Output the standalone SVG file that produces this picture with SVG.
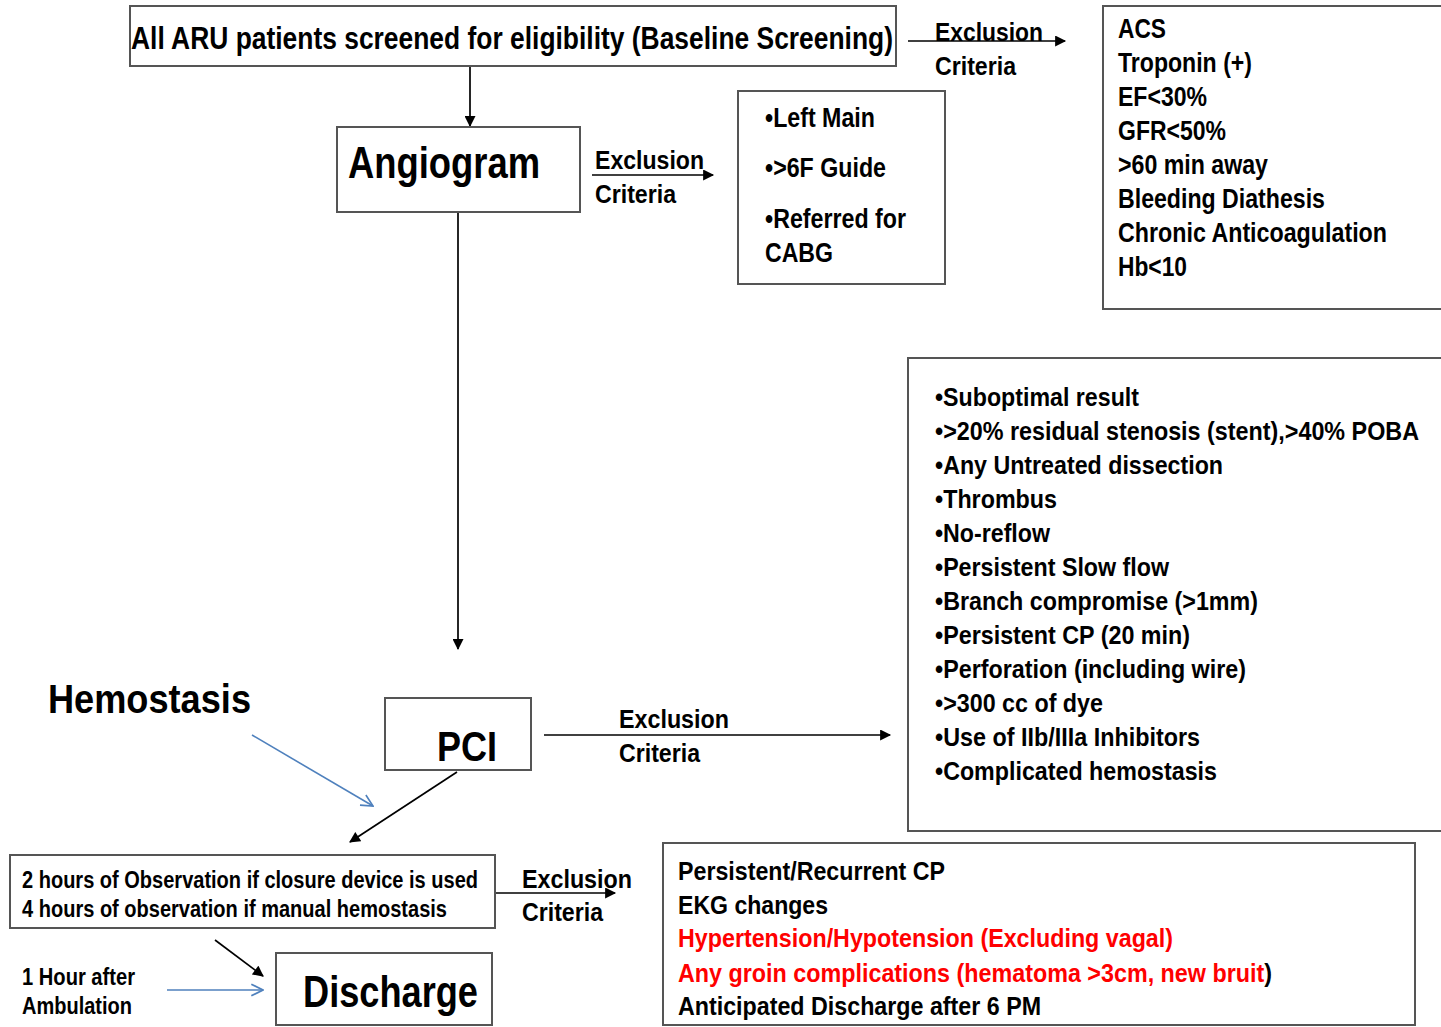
<svg xmlns="http://www.w3.org/2000/svg" width="1441" height="1027" viewBox="0 0 1441 1027">
  <style>
    text { font-family: "Liberation Sans Narrow", "Liberation Sans", Arial, sans-serif; font-weight: bold; fill: #000; }
    .box { fill: #fff; stroke: #555; stroke-width: 2; }
    .wire { stroke: #000; stroke-width: 1.7; fill: none; }
    .blue { stroke: #4f81bd; stroke-width: 1.6; fill: none; }
    .red { fill: #ff0000; }
  </style>
  <defs>
    <marker id="arrow" viewBox="0 0 10 10" refX="9" refY="5" markerWidth="12" markerHeight="11" markerUnits="userSpaceOnUse" orient="auto">
      <path d="M0,0 L10,5 L0,10 z" fill="#000"/>
    </marker>
    <marker id="arrowOpen" viewBox="0 0 12 12" refX="11" refY="6" markerWidth="14" markerHeight="14" markerUnits="userSpaceOnUse" orient="auto">
      <path d="M1,1 L11,6 L1,11" fill="none" stroke="#4f81bd" stroke-width="1.4"/>
    </marker>
  </defs>

  <rect width="1441" height="1027" fill="#fff"/>

  <!-- connectors -->
  <g id="connectors">
    <line class="wire" x1="470" y1="66" x2="470" y2="126" marker-end="url(#arrow)"/>
    <line class="wire" x1="908" y1="41" x2="1065" y2="41" marker-end="url(#arrow)"/>
    <line class="wire" x1="592" y1="175" x2="713" y2="175" marker-end="url(#arrow)"/>
    <line class="wire" x1="458" y1="212" x2="458" y2="649" marker-end="url(#arrow)"/>
    <line class="wire" x1="544" y1="735" x2="890" y2="735" marker-end="url(#arrow)"/>
    <line class="wire" x1="457" y1="772" x2="350" y2="842" marker-end="url(#arrow)"/>
    <line class="wire" x1="495" y1="893" x2="615" y2="893" marker-end="url(#arrow)"/>
    <line class="wire" x1="215" y1="940" x2="263" y2="976" marker-end="url(#arrow)"/>
    <line class="blue" x1="252" y1="735" x2="373" y2="806" marker-end="url(#arrowOpen)"/>
    <line class="blue" x1="167" y1="990" x2="263" y2="990" marker-end="url(#arrowOpen)"/>
  </g>

  <!-- edge labels -->
  <g id="labels" font-size="26">
    <text x="935" y="41" textLength="108" lengthAdjust="spacingAndGlyphs">Exclusion</text>
    <text x="935" y="75" textLength="81" lengthAdjust="spacingAndGlyphs">Criteria</text>
    <text x="595" y="169" textLength="109" lengthAdjust="spacingAndGlyphs">Exclusion</text>
    <text x="595" y="203" textLength="81" lengthAdjust="spacingAndGlyphs">Criteria</text>
    <text x="619" y="728" textLength="110" lengthAdjust="spacingAndGlyphs">Exclusion</text>
    <text x="619" y="762" textLength="81" lengthAdjust="spacingAndGlyphs">Criteria</text>
    <text x="522" y="888" textLength="110" lengthAdjust="spacingAndGlyphs">Exclusion</text>
    <text x="522" y="921" textLength="81" lengthAdjust="spacingAndGlyphs">Criteria</text>
  </g>

  <!-- screening -->
  <g id="screening">
    <rect class="box" x="130" y="6" width="766" height="60"/>
    <text x="131" y="49" font-size="31" textLength="762" lengthAdjust="spacingAndGlyphs">All ARU patients screened for eligibility (Baseline Screening)</text>
  </g>

  <!-- baseline exclusion list -->
  <g id="baseline-exclusions" font-size="27">
    <rect class="box" x="1103" y="6" width="345" height="303"/>
    <text x="1118" y="38" textLength="48" lengthAdjust="spacingAndGlyphs">ACS</text>
    <text x="1118" y="72" textLength="134" lengthAdjust="spacingAndGlyphs">Troponin (+)</text>
    <text x="1118" y="106" textLength="89" lengthAdjust="spacingAndGlyphs">EF&lt;30%</text>
    <text x="1118" y="140" textLength="108" lengthAdjust="spacingAndGlyphs">GFR&lt;50%</text>
    <text x="1118" y="174" textLength="150" lengthAdjust="spacingAndGlyphs">&gt;60 min away</text>
    <text x="1118" y="208" textLength="207" lengthAdjust="spacingAndGlyphs">Bleeding Diathesis</text>
    <text x="1118" y="242" textLength="269" lengthAdjust="spacingAndGlyphs">Chronic Anticoagulation</text>
    <text x="1118" y="276" textLength="69" lengthAdjust="spacingAndGlyphs">Hb&lt;10</text>
  </g>

  <!-- angiogram -->
  <g id="angiogram">
    <rect class="box" x="337" y="127" width="243" height="85"/>
    <text x="348" y="178" font-size="44" textLength="192" lengthAdjust="spacingAndGlyphs">Angiogram</text>
  </g>

  <!-- angiogram exclusion list -->
  <g id="angiogram-exclusions" font-size="27">
    <rect class="box" x="738" y="91" width="207" height="193"/>
    <text x="765" y="127" textLength="110" lengthAdjust="spacingAndGlyphs">•Left Main</text>
    <text x="765" y="177" textLength="121" lengthAdjust="spacingAndGlyphs">•&gt;6F Guide</text>
    <text x="765" y="228" textLength="141" lengthAdjust="spacingAndGlyphs">•Referred for</text>
    <text x="765" y="262" textLength="68" lengthAdjust="spacingAndGlyphs">CABG</text>
  </g>

  <!-- hemostasis label -->
  <g id="hemostasis">
    <text x="48" y="713" font-size="40" textLength="203" lengthAdjust="spacingAndGlyphs">Hemostasis</text>
  </g>

  <!-- PCI -->
  <g id="pci">
    <rect class="box" x="385" y="698" width="146" height="72"/>
    <text x="437" y="761" font-size="42" textLength="60" lengthAdjust="spacingAndGlyphs">PCI</text>
  </g>

  <!-- PCI exclusion list -->
  <g id="pci-exclusions" font-size="26">
    <rect class="box" x="908" y="358" width="540" height="473"/>
    <text x="935" y="406" textLength="204" lengthAdjust="spacingAndGlyphs">•Suboptimal result</text>
    <text x="935" y="440" textLength="484" lengthAdjust="spacingAndGlyphs">•&gt;20% residual stenosis (stent),&gt;40% POBA</text>
    <text x="935" y="474" textLength="288" lengthAdjust="spacingAndGlyphs">•Any Untreated dissection</text>
    <text x="935" y="508" textLength="122" lengthAdjust="spacingAndGlyphs">•Thrombus</text>
    <text x="935" y="542" textLength="115" lengthAdjust="spacingAndGlyphs">•No-reflow</text>
    <text x="935" y="576" textLength="234" lengthAdjust="spacingAndGlyphs">•Persistent Slow flow</text>
    <text x="935" y="610" textLength="323" lengthAdjust="spacingAndGlyphs">•Branch compromise (&gt;1mm)</text>
    <text x="935" y="644" textLength="255" lengthAdjust="spacingAndGlyphs">•Persistent CP (20 min)</text>
    <text x="935" y="678" textLength="311" lengthAdjust="spacingAndGlyphs">•Perforation (including wire)</text>
    <text x="935" y="712" textLength="168" lengthAdjust="spacingAndGlyphs">•&gt;300 cc of dye</text>
    <text x="935" y="746" textLength="265" lengthAdjust="spacingAndGlyphs">•Use of IIb/IIIa Inhibitors</text>
    <text x="935" y="780" textLength="282" lengthAdjust="spacingAndGlyphs">•Complicated hemostasis</text>
  </g>

  <!-- observation -->
  <g id="observation" font-size="23">
    <rect class="box" x="10" y="855" width="485" height="73"/>
    <text x="22" y="888" textLength="456" lengthAdjust="spacingAndGlyphs">2 hours of Observation if closure device is used</text>
    <text x="22" y="917" textLength="425" lengthAdjust="spacingAndGlyphs">4 hours of observation if manual hemostasis</text>
  </g>

  <!-- ambulation label -->
  <g id="ambulation" font-size="23">
    <text x="22" y="985" textLength="113" lengthAdjust="spacingAndGlyphs">1 Hour after</text>
    <text x="22" y="1014" textLength="110" lengthAdjust="spacingAndGlyphs">Ambulation</text>
  </g>

  <!-- discharge -->
  <g id="discharge">
    <rect class="box" x="276" y="953" width="216" height="72"/>
    <text x="303" y="1007" font-size="44" textLength="175" lengthAdjust="spacingAndGlyphs">Discharge</text>
  </g>

  <!-- discharge exclusion list -->
  <g id="discharge-exclusions" font-size="26">
    <rect class="box" x="663" y="843" width="752" height="182"/>
    <text x="678" y="880" textLength="267" lengthAdjust="spacingAndGlyphs">Persistent/Recurrent CP</text>
    <text x="678" y="914" textLength="150" lengthAdjust="spacingAndGlyphs">EKG changes</text>
    <text x="678" y="947" class="red" textLength="495" lengthAdjust="spacingAndGlyphs">Hypertension/Hypotension (Excluding vagal)</text>
    <text x="678" y="982" textLength="594" lengthAdjust="spacingAndGlyphs"><tspan class="red">Any groin complications (hematoma &gt;3cm, new bruit</tspan>)</text>
    <text x="678" y="1015" textLength="363" lengthAdjust="spacingAndGlyphs">Anticipated Discharge after 6 PM</text>
  </g>
</svg>
